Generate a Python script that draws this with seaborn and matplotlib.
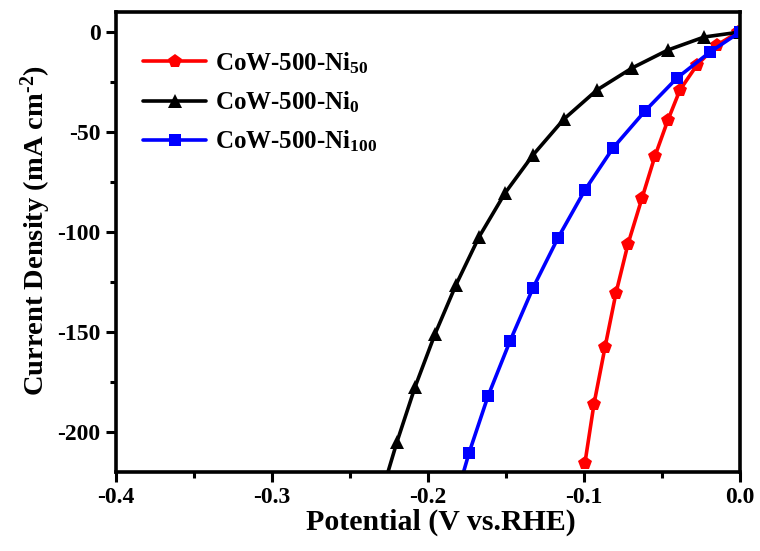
import numpy as np
import pandas as pd
import matplotlib
matplotlib.use("Agg")
import matplotlib.pyplot as plt
import seaborn as sns
from matplotlib.ticker import MultipleLocator

# ---- data ----
labels = [r"CoW-500-Ni$_{50}$", r"CoW-500-Ni$_{0}$", r"CoW-500-Ni$_{100}$"]

v_ni50 = [-0.001, -0.0147, -0.0276, -0.0385, -0.0462, -0.0545, -0.0628, -0.0718, -0.0795, -0.0865, -0.0936, -0.0994]
j_ni50 = [0.0, -6.5, -16.5, -29.0, -44.0, -62.0, -83.0, -106.0, -130.5, -157.5, -186.0, -215.5]

v_ni0 = [0.0, -0.023, -0.0462, -0.0692, -0.0917, -0.1128, -0.1327, -0.1506, -0.1673, -0.1821, -0.1955, -0.2083, -0.2199, -0.2314]
j_ni0 = [0.0, -2.5, -9.0, -18.0, -29.0, -43.5, -61.5, -80.5, -102.5, -126.5, -151.0, -177.5, -205.0, -235.0]

v_ni100 = [0.0, -0.0192, -0.0404, -0.0609, -0.0814, -0.0994, -0.1167, -0.1327, -0.1474, -0.1615, -0.1737, -0.1846]
j_ni100 = [0.0, -10.0, -23.0, -39.5, -58.0, -79.0, -103.0, -128.0, -154.5, -182.0, -210.5, -240.0]

xticks = [-0.4, -0.3, -0.2, -0.1, 0.0]
xticklabels = ["-0.4", "-0.3", "-0.2", "-0.1", "0.0"]
yticks = [0, -50, -100, -150, -200]
yticklabels = ["0", "-50", "-100", "-150", "-200"]

colors = ["#ff0000", "#000000", "#0000ff"]
markers = ["p", "^", "s"]
msizes = [10.5, 10, 8.5]

sns.set_theme(style="white")
plt.rcParams["font.family"] = ["Liberation Serif", "DejaVu Serif"]
plt.rcParams["font.weight"] = "bold"
plt.rcParams["text.color"] = "black"
plt.rcParams["axes.labelcolor"] = "black"
plt.rcParams["xtick.color"] = "black"
plt.rcParams["ytick.color"] = "black"
plt.rcParams["mathtext.fontset"] = "custom"
plt.rcParams["mathtext.rm"] = "Liberation Serif:bold"
plt.rcParams["mathtext.it"] = "Liberation Serif:bold"
plt.rcParams["mathtext.bf"] = "Liberation Serif:bold"
plt.rcParams["mathtext.default"] = "rm"

fig = plt.figure(figsize=(7.6, 5.51), dpi=100)
ax = fig.add_axes([0.1526, 0.1434, 0.8211, 0.8348])

series = [(v_ni50, j_ni50), (v_ni0, j_ni0), (v_ni100, j_ni100)]
for (v, j), lab, c, m, ms in zip(series, labels, colors, markers, msizes):
    df = pd.DataFrame({"V": v, "J": j})
    sns.lineplot(data=df, x="V", y="J", sort=False, estimator=None, ax=ax,
                 color=c, marker=m, markersize=ms, markeredgewidth=0,
                 linewidth=2.6, label=lab)

ax.set_xlim(-0.4, 0.0)
ax.set_ylim(-220, 10)
ax.set_xticks(xticks)
ax.set_xticklabels(xticklabels)
ax.set_yticks(yticks)
ax.set_yticklabels(yticklabels)
ax.xaxis.set_minor_locator(MultipleLocator(0.05))
ax.yaxis.set_minor_locator(MultipleLocator(25))

ax.tick_params(axis="both", which="major", direction="out", length=7, width=2.2,
               labelsize=17, colors="black", bottom=True, left=True, top=False, right=False,
               pad=4)
ax.tick_params(axis="both", which="minor", direction="out", length=4, width=2.2,
               bottom=True, left=True, top=False, right=False)
for lab in ax.get_xticklabels() + ax.get_yticklabels():
    lab.set_fontweight("bold")
for s in ax.spines.values():
    s.set_linewidth(2.6)
    s.set_color("black")

ax.set_xlabel("Potential (V vs.RHE)", fontsize=21.5, fontweight="bold", labelpad=0, color="black")
ax.set_ylabel(r"Current Density (mA cm$^{\text{-}2}$)", fontsize=20.5, fontweight="bold",
              labelpad=3, color="black")
ax.xaxis.label.set_x(0.52)
ax.yaxis.label.set_y(0.525)

leg = ax.legend(loc="upper left", bbox_to_anchor=(0.02, 0.95), frameon=False,
                fontsize=18, handlelength=2.5, handletextpad=0.35, labelspacing=0.55,
                borderaxespad=0.2, labelcolor="black")

fig.savefig("out.png", dpi=100)
